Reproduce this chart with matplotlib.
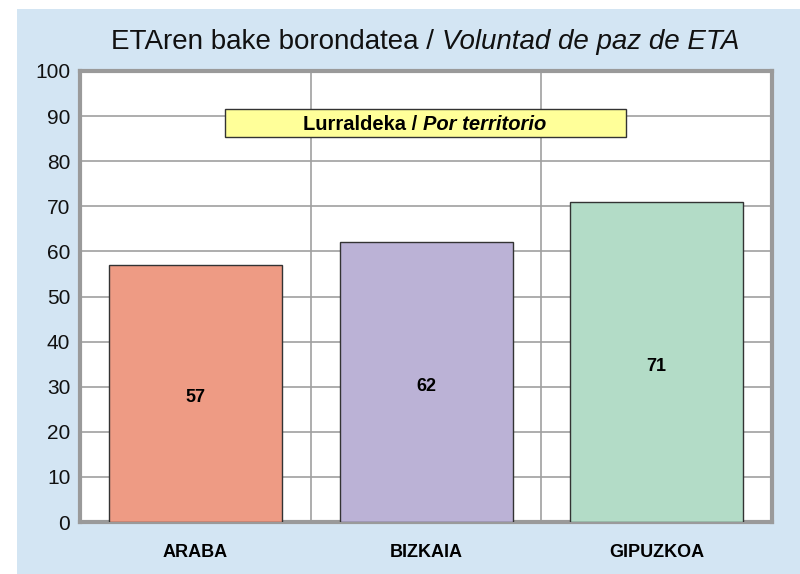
import matplotlib.pyplot as plt
from matplotlib.patches import Rectangle

plt.rcParams['font.family'] = ['Liberation Sans', 'DejaVu Sans']

# data
territories = ['ARABA', 'BIZKAIA', 'GIPUZKOA']
values = [57, 62, 71]
colors = ['#ee9b84', '#bbb2d6', '#b3dcc7']
yticks = list(range(0, 101, 10))

fig = plt.figure(figsize=(8, 5.74), dpi=100)
fig.patch.set_facecolor('white')
# light blue panel behind the chart
fig.patches.append(Rectangle((17/800, 0), 1 - 17/800, (574 - 9)/574,
                             transform=fig.transFigure, facecolor='#d3e5f3',
                             edgecolor='none', zorder=-10))

ax = fig.add_axes([80/800, 52/574, 692/800, 451/574])
ax.set_facecolor('white')
ax.set_zorder(1)

x = range(len(territories))
bars = ax.bar(x, values, width=0.75, color=colors, edgecolor='#333333',
              linewidth=1, zorder=3)
for b, v in zip(bars, values):
    ax.annotate(str(v), (b.get_x() + b.get_width()/2, v/2), xytext=(0, -3),
                textcoords='offset points', ha='center', va='center',
                fontsize=13, fontweight='bold', zorder=4)

ax.set_xlim(-0.5, 2.5)
ax.set_ylim(0, 100)
ax.set_yticks(yticks)
ax.set_yticklabels([str(t) for t in yticks], fontsize=15, color='#111111')
ax.set_xticks(list(x))
ax.set_xticklabels(territories, fontsize=13, fontweight='bold')
ax.tick_params(axis='both', length=0)
ax.tick_params(axis='y', pad=7)
ax.tick_params(axis='x', pad=16)

for t in yticks[1:-1]:
    ax.axhline(t, color='#a0a0a0', lw=1.2, zorder=1)
for xv in [0.5, 1.5]:
    ax.axvline(xv, color='#a0a0a0', lw=1.2, zorder=1)
for s in ax.spines.values():
    s.set_color('#9a9a9a')
    s.set_linewidth(3)

# yellow label box
ax.add_patch(Rectangle((0.128, 85.4), 1.867 - 0.128, 6.2, facecolor='#ffff99',
                       edgecolor='#333333', lw=1, zorder=5))

fig.canvas.draw()
r = fig.canvas.get_renderer()

def two_part(xc, yc, a, b, **kw):
    t1 = fig.text(0, 0, a, **kw)
    t2 = fig.text(0, 0, b, style='italic', **kw)
    w1 = t1.get_window_extent(r).width
    w2 = t2.get_window_extent(r).width
    x0 = xc - (w1 + w2)/2
    t1.set_position((x0/800, yc)); t1.set_ha('left')
    t2.set_position(((x0 + w1)/800, yc)); t2.set_ha('left')

two_part(425, 1 - 42/574, 'ETAren bake borondatea / ', 'Voluntad de paz de ETA',
         fontsize=20, va='center', color='#111111')
two_part(425, 1 - 124/574, 'Lurraldeka / ', 'Por territorio',
         fontsize=14.5, fontweight='bold', va='center', zorder=6)

fig.savefig('out.png', dpi=100)
